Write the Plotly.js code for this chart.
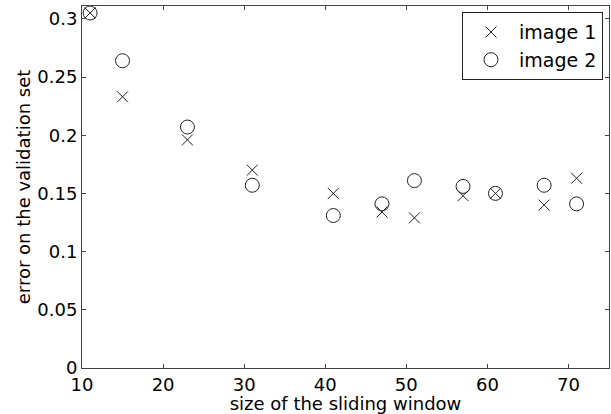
<!DOCTYPE html>
<html>
<head>
<meta charset="utf-8">
<script src="https://cdn.plot.ly/plotly-3.0.1.min.js"></script>
<style>html,body{margin:0;padding:0;background:#fff;}</style>
</head>
<body>
<div id="chart" style="width:611px;height:414px;"></div>
<script>
const windowSizes = [11, 15, 23, 31, 41, 47, 51, 57, 61, 67, 71];
const image1Errors = [0.305, 0.233, 0.196, 0.170, 0.150, 0.134, 0.129, 0.148, 0.150, 0.140, 0.163];
const image2Errors = [0.305, 0.264, 0.207, 0.157, 0.131, 0.141, 0.161, 0.156, 0.150, 0.157, 0.141];
const seriesNames = ['image 1', 'image 2'];
const xTicks = [10, 20, 30, 40, 50, 60, 70];
const yTicks = [0, 0.05, 0.1, 0.15, 0.2, 0.25, 0.3];
const yTickText = ['0', '0.05', '0.1', '0.15', '0.2', '0.25', '0.3'];

const fontFam = 'DejaVu Sans, Liberation Sans, Arial, sans-serif';

const traces = [
  {
    x: windowSizes, y: image1Errors, name: seriesNames[0],
    mode: 'markers', type: 'scatter',
    marker: {symbol: 'x-thin-open', size: 11, color: '#222', line: {width: 1, color: '#222'}}
  },
  {
    x: windowSizes, y: image2Errors, name: seriesNames[1],
    mode: 'markers', type: 'scatter',
    marker: {symbol: 'circle-open', size: 14, color: '#222', line: {width: 1, color: '#222'}}
  }
];

const axisCommon = {
  showgrid: false, zeroline: false, showline: true, linecolor: '#444', linewidth: 1,
  mirror: 'ticks', ticks: 'inside', ticklen: 4, tickcolor: '#444',
  tickfont: {family: fontFam, size: 18, color: '#000'}
};

const layout = {
  width: 611, height: 414,
  margin: {l: 82, r: 2, t: 6, b: 46},
  paper_bgcolor: '#fff', plot_bgcolor: '#fff',
  showlegend: true,
  legend: {
    x: 0.9886, xanchor: 'right', y: 0.983, yanchor: 'top',
    bordercolor: '#222', borderwidth: 1, bgcolor: '#fff',
    font: {family: fontFam, size: 19, color: '#000'},
    itemwidth: 46, tracegroupgap: 0
  },
  xaxis: Object.assign({}, axisCommon, {
    range: [10, 75], tickvals: xTicks, ticktext: xTicks.map(String),
    title: {text: 'size of the sliding window', standoff: 0, font: {family: fontFam, size: 18, color: '#000'}}
  }),
  yaxis: Object.assign({}, axisCommon, {
    range: [0, 0.311], tickvals: yTicks, ticktext: yTickText,
    title: {text: 'error on the validation set', standoff: 2, font: {family: fontFam, size: 18, color: '#000'}}
  })
};

Plotly.newPlot('chart', traces, layout, {displayModeBar: false, staticPlot: true});
</script>
</body>
</html>
